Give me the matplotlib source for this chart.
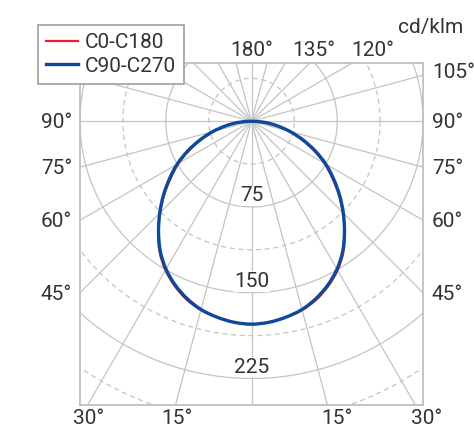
import numpy as np
import matplotlib.pyplot as plt
from matplotlib.path import Path
from matplotlib.patches import PathPatch
from matplotlib.lines import Line2D

# intensidade (cd/klm) a cada 5 graus, de 0 a 90
angulos = [0, 5, 10, 15, 20, 25, 30, 35, 40, 45, 50, 55, 60, 65, 70, 75, 80, 85, 90]
c0_c180 = [177.5, 176.5, 174, 171, 166, 159, 150.5, 140, 127, 113, 99.5, 86, 73.5, 60, 46.5, 34, 21.5, 10.5, 0]
c90_c270 = [177.5, 176.5, 174, 170.5, 165, 158, 149.5, 139, 126.5, 113.5, 100.5, 87.5, 75, 61.5, 48, 35, 22.5, 11, 0]

aneis = [37.5, 75, 112.5, 150, 187.5, 225, 262.5, 300]
rotulos_aneis = ["75", "150", "225"]

plt.rcParams['font.family'] = ['Roboto', 'DejaVu Sans']
cinza_txt = '#333333'
cinza = '#c4c4c4'

W, H = 474, 432
fig = plt.figure(figsize=(W / 100, H / 100), dpi=100)


def px(x, y):
    return x / W, 1 - y / H


def caminho_suave(xs, ys):
    # catmull-rom -> bezier, so para desenhar a curva sem quinas
    p = np.column_stack([xs, ys])
    verts = [p[0]]
    codes = [Path.MOVETO]
    n = len(p)
    for i in range(n - 1):
        p0 = p[i - 1] if i > 0 else p[i]
        p3 = p[i + 2] if i + 2 < n else p[i + 1]
        c1 = p[i] + (p[i + 1] - p0) / 6
        c2 = p[i + 1] - (p3 - p[i]) / 6
        verts += [c1, c2, p[i + 1]]
        codes += [Path.CURVE4] * 3
    return Path(verts, codes)


ax = fig.add_axes([80 / W, 1 - 405 / H, 343 / W, 342 / H])
ax.set_xlim(-150, 150)
ax.set_ylim(-248.2, 50.9)
ax.set_xticks([])
ax.set_yticks([])
for s in ax.spines.values():
    s.set_color('#c0c0c0')
    s.set_linewidth(1.3)

# circulos
t = np.linspace(0, 2 * np.pi, 400)
for i, r in enumerate(aneis):
    if i % 2 == 0:
        ax.plot(r * np.cos(t), r * np.sin(t), color=cinza, lw=0.9, ls='--', dashes=(4, 3), zorder=1)
    else:
        ax.plot(r * np.cos(t), r * np.sin(t), color=cinza, lw=0.9, zorder=1)

# linhas radiais a cada 15 graus
for a in range(0, 360, 15):
    ar = np.radians(a)
    ax.plot([0, 400 * np.sin(ar)], [0, -400 * np.cos(ar)], color=cinza, lw=0.9, zorder=1)

# rotulos dos aneis
for r, lab in zip([75, 150, 225], rotulos_aneis):
    ax.text(0, -r + 1.5, lab, ha='center', va='bottom', fontsize=15, color=cinza_txt,
            bbox=dict(facecolor='white', edgecolor='none', pad=0.5), zorder=2)

# curvas
th = np.radians(np.array(angulos))
th_full = np.concatenate([-th[::-1], th[1:]])
handles = []
for vals, cor, lw, nome in [(c0_c180, '#e8212b', 1.6, 'C0-C180'),
                            (c90_c270, '#0c4a9c', 2.4, 'C90-C270')]:
    v = np.array(vals, dtype=float)
    v_full = np.concatenate([v[::-1], v[1:]])
    path = caminho_suave(v_full * np.sin(th_full), -v_full * np.cos(th_full))
    ax.add_patch(PathPatch(path, facecolor='none', edgecolor=cor, lw=lw, zorder=3))
    handles.append(Line2D([], [], color=cor, lw=lw, label=nome))

leg = fig.legend(handles=handles, loc='upper left', bbox_to_anchor=px(38, 25), borderaxespad=0,
                 fancybox=False, edgecolor='#a0a0a0', framealpha=1, fontsize=15,
                 handlelength=1.5, handletextpad=0.35, borderpad=0.4, labelspacing=0.2)
leg.get_frame().set_linewidth(1.2)
for txt in leg.get_texts():
    txt.set_color(cinza_txt)

# rotulos de angulos
kw = dict(fontsize=15, color=cinza_txt, va='center')
fig.text(*px(431, 27), 'cd/klm', ha='center', **kw)
for x, lab in [(252, '180°'), (314, '135°'), (373, '120°')]:
    fig.text(*px(x, 50), lab, ha='center', **kw)
fig.text(*px(432, 72), '105°', ha='left', **kw)
for y, lab in [(122, '90°'), (168, '75°'), (222, '60°'), (295, '45°')]:
    fig.text(*px(432, y), lab, ha='left', **kw)
    fig.text(*px(72, y), lab, ha='right', **kw)
for x, lab in [(89, '30°'), (177, '15°'), (337, '15°'), (427, '30°')]:
    fig.text(*px(x, 419), lab, ha='center', **kw)

fig.savefig('out.png', dpi=100)
